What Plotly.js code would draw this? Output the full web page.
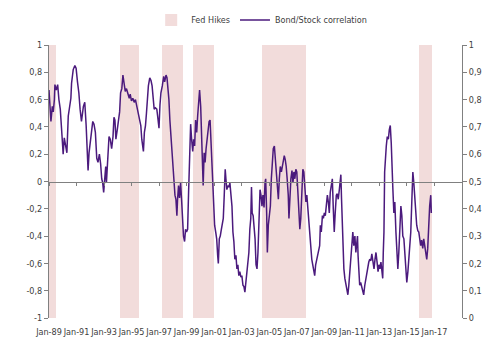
<!DOCTYPE html>
<html>
<head>
<meta charset="utf-8">
<script src="https://cdn.plot.ly/plotly-3.0.1.min.js"></script>
<style>html,body{margin:0;padding:0;background:#fff}#chart{width:497px;height:352px}</style>
</head>
<body>
<div id="chart"></div>
<script>
// Bond/Stock correlation (decimal year, value)
const corrYears = [
1989.00,1989.14,1989.24,1989.31,1989.39,1989.43,1989.53,1989.63,1989.72,1989.82,1989.91,
1990.03,1990.11,1990.20,1990.30,1990.40,1990.49,1990.59,1990.64,1990.76,1990.88,1990.97,
1991.07,1991.17,1991.26,1991.36,1991.50,1991.60,1991.70,1991.77,1991.84,1991.91,
1992.01,1992.08,1992.18,1992.27,1992.37,1992.47,1992.56,1992.66,1992.75,1992.83,1992.90,
1992.97,1993.05,1993.12,1993.17,1993.26,1993.36,1993.45,1993.55,1993.65,1993.72,1993.79,1993.86,1993.96,
1994.06,1994.13,1994.20,1994.29,1994.37,1994.44,1994.54,1994.63,1994.73,1994.83,1994.90,1994.99,
1995.09,1995.19,1995.28,1995.38,1995.48,1995.57,1995.67,1995.74,1995.81,1995.86,1995.93,
1996.01,1996.08,1996.15,1996.22,1996.32,1996.41,1996.49,1996.56,1996.64,1996.73,1996.83,1996.89,1996.99,
1997.06,1997.13,1997.23,1997.33,1997.40,1997.50,1997.57,1997.64,1997.71,1997.78,1997.86,1997.93,
1998.00,1998.08,1998.15,1998.22,1998.29,1998.34,1998.41,1998.48,1998.56,1998.63,1998.70,1998.77,1998.85,1998.92,1998.99,
1999.07,1999.14,1999.22,1999.29,1999.36,1999.44,1999.51,1999.58,1999.65,1999.73,1999.80,1999.87,1999.94,
2000.02,2000.09,2000.15,2000.20,2000.27,2000.34,2000.41,2000.48,2000.56,2000.63,2000.70,2000.77,2000.89,2000.96,
2001.03,2001.11,2001.18,2001.25,2001.30,2001.37,2001.44,2001.52,2001.59,2001.66,2001.73,2001.80,2001.85,2001.92,2001.99,
2002.07,2002.14,2002.21,2002.29,2002.36,2002.43,2002.50,2002.58,2002.65,2002.72,2002.79,2002.86,2002.94,
2003.01,2003.09,2003.16,2003.23,2003.30,2003.37,2003.44,2003.52,2003.59,2003.66,2003.71,2003.76,2003.83,2003.90,2003.97,
2004.04,2004.11,2004.18,2004.26,2004.33,2004.40,2004.47,2004.54,2004.62,2004.69,2004.74,2004.81,2004.86,2004.93,
2005.00,2005.08,2005.15,2005.22,2005.29,2005.37,2005.44,2005.52,2005.58,2005.66,2005.73,2005.80,2005.88,2005.94,
2006.02,2006.09,2006.16,2006.23,2006.30,2006.38,2006.43,2006.50,2006.57,2006.65,2006.72,2006.79,2006.86,2006.93,
2007.00,2007.07,2007.15,2007.22,2007.29,2007.37,2007.44,2007.51,2007.58,2007.66,2007.73,2007.80,2007.87,2007.94,
2008.01,2008.09,2008.16,2008.23,2008.30,2008.37,2008.45,2008.52,2008.59,2008.66,2008.71,2008.78,2008.86,2008.93,
2009.00,2009.07,2009.14,2009.22,2009.29,2009.36,2009.43,2009.50,2009.58,2009.65,2009.72,2009.79,2009.87,2009.94,
2010.01,2010.09,2010.16,2010.20,2010.25,2010.30,2010.35,2010.42,2010.49,2010.57,2010.64,2010.71,2010.78,2010.85,2010.93,
2011.00,2011.07,2011.14,2011.22,2011.29,2011.36,2011.41,2011.45,2011.50,2011.57,2011.64,2011.72,2011.79,2011.86,2011.94,
2012.01,2012.08,2012.15,2012.23,2012.30,2012.38,2012.45,2012.52,2012.61,2012.68,2012.75,2012.83,2012.90,2012.97,
2013.04,2013.11,2013.19,2013.24,2013.28,2013.33,2013.38,2013.43,2013.50,2013.57,2013.65,2013.72,2013.79,2013.86,2013.91,2013.98,
2014.05,2014.12,2014.20,2014.27,2014.34,2014.41,2014.49,2014.56,2014.63,2014.70,2014.78,2014.85,2014.92,2014.99,
2015.07,2015.14,2015.21,2015.28,2015.36,2015.43,2015.50,2015.57,2015.64,2015.71,2015.79,2015.86,2015.93,
2016.00,2016.07,2016.15,2016.22,2016.29,2016.37,2016.44,2016.51,2016.58,2016.65,2016.73,2016.77
];
const corrValues = [
0.67,0.44,0.55,0.51,0.60,0.71,0.67,0.71,0.60,0.53,0.39,
0.20,0.32,0.26,0.21,0.48,0.53,0.61,0.72,0.82,0.85,0.83,
0.73,0.65,0.53,0.44,0.55,0.58,0.41,0.19,0.08,0.21,
0.31,0.38,0.44,0.42,0.36,0.17,0.14,0.20,0.13,0.02,-0.01,
-0.08,0.04,0.11,-0.01,0.21,0.33,0.31,0.24,0.33,0.47,0.45,0.31,0.38,
0.48,0.51,0.65,0.68,0.78,0.72,0.66,0.68,0.65,0.61,0.64,0.59,
0.61,0.58,0.60,0.55,0.50,0.45,0.41,0.31,0.26,0.22,0.36,
0.41,0.50,0.62,0.70,0.76,0.74,0.70,0.61,0.53,0.54,0.53,0.48,0.39,
0.56,0.65,0.70,0.77,0.73,0.78,0.76,0.70,0.60,0.45,0.33,0.24,
0.11,0.05,-0.10,-0.13,-0.25,-0.13,-0.03,-0.12,-0.01,-0.13,-0.27,-0.40,-0.44,-0.35,-0.37,
-0.35,-0.08,0.16,0.42,0.31,0.22,0.31,0.26,0.45,0.36,0.48,0.60,0.67,
0.55,0.33,0.11,-0.03,0.21,0.14,0.24,0.31,0.36,0.44,0.45,0.28,0.02,-0.20,
-0.32,-0.37,-0.42,-0.54,-0.60,-0.42,-0.40,-0.35,-0.30,-0.27,-0.10,0.09,0.02,-0.06,-0.03,
-0.04,-0.01,-0.08,-0.18,-0.37,-0.44,-0.57,-0.54,-0.64,-0.61,-0.69,-0.66,-0.70,
-0.69,-0.76,-0.77,-0.81,-0.74,-0.70,-0.64,-0.52,-0.35,-0.27,-0.04,-0.23,-0.25,-0.32,-0.42,
-0.61,-0.64,-0.52,-0.32,-0.06,-0.10,-0.18,-0.10,-0.19,-0.01,0.02,-0.23,-0.52,-0.32,
-0.25,-0.18,0.02,0.19,0.24,0.26,0.16,0.11,-0.03,-0.13,0.02,0.11,0.07,0.11,
0.17,0.19,0.16,0.11,0.02,-0.10,-0.27,-0.10,0.02,0.08,-0.01,0.07,0.02,0.09,
0.07,-0.06,-0.23,-0.35,-0.27,-0.10,0.09,0.07,-0.08,-0.15,-0.10,-0.20,-0.27,-0.40,
-0.47,-0.57,-0.61,-0.64,-0.69,-0.61,-0.57,-0.54,-0.52,-0.47,-0.32,-0.37,-0.25,-0.27,
-0.23,-0.25,-0.18,-0.10,-0.15,-0.23,-0.08,-0.03,0.02,-0.20,-0.37,-0.23,-0.10,-0.09,
-0.13,-0.06,-0.01,0.05,-0.13,-0.35,-0.47,-0.64,-0.71,-0.76,-0.81,-0.83,-0.76,-0.66,-0.57,
-0.44,-0.37,-0.47,-0.40,-0.52,-0.42,-0.40,-0.54,-0.66,-0.76,-0.74,-0.77,-0.81,-0.83,-0.76,
-0.71,-0.66,-0.64,-0.59,-0.57,-0.58,-0.53,-0.59,-0.64,-0.57,-0.52,-0.59,-0.66,-0.61,
-0.64,-0.59,-0.66,-0.71,-0.52,-0.37,0.07,0.21,0.26,0.33,0.31,0.38,0.41,0.28,0.07,-0.06,
-0.23,-0.15,-0.37,-0.57,-0.64,-0.52,-0.27,-0.18,-0.25,-0.40,-0.42,-0.54,-0.66,-0.74,
-0.66,-0.54,-0.42,-0.37,-0.13,0.07,-0.01,-0.13,-0.27,-0.32,-0.36,-0.37,-0.42,
-0.47,-0.43,-0.49,-0.42,-0.47,-0.54,-0.57,-0.49,-0.32,-0.18,-0.10,-0.23
];

// Fed hike periods (decimal years) - indicator = 1 on the right axis
const hikeStarts = [1988.20, 1994.13, 1997.21, 1999.49, 2004.46, 2015.86];
const hikeEnds   = [1989.50, 1995.52, 1998.74, 2001.00, 2007.65, 2016.80];
const hikeLevel  = [1, 1, 1, 1, 1, 1];

const xTickDates  = ['1989-01-01','1991-01-01','1993-01-01','1995-01-01','1997-01-01','1999-01-01','2001-01-01','2003-01-01','2005-01-01','2007-01-01','2009-01-01','2011-01-01','2013-01-01','2015-01-01','2017-01-01'];
const xTickLabels = ['Jan-89','Jan-91','Jan-93','Jan-95','Jan-97','Jan-99','Jan-01','Jan-03','Jan-05','Jan-07','Jan-09','Jan-11','Jan-13','Jan-15','Jan-17'];
const yLeftTicks  = [-1,-0.8,-0.6,-0.4,-0.2,0,0.2,0.4,0.6,0.8,1];
const yLeftLabels = ['-1','-0,8','-0,6','-0,4','-0,2','0','0,2','0,4','0,6','0,8','1'];
const yRightTicks  = [0,0.1,0.2,0.3,0.4,0.5,0.6,0.7,0.8,0.9,1];
const yRightLabels = ['0','0,1','0,2','0,3','0,4','0,5','0,6','0,7','0,8','0,9','1'];

function decYearMs(t){
  const y = Math.floor(t);
  const a = Date.UTC(y,0,1), b = Date.UTC(y+1,0,1);
  return a + (t - y) * (b - a);
}
function decYearToDate(t){ return new Date(decYearMs(t)).toISOString().slice(0,19); }

const font = {family: "'DejaVu Sans Condensed', 'Liberation Sans Narrow', sans-serif", size: 9, color: '#404040'};
const xRange = ['1989-01-01','2019-01-01'];

// bars on the main subplot (right-hand 0..1 axis), line on the overlay (left -1..1 axis) so it is drawn above
const hikeTrace = {
  type: 'bar', name: 'Fed Hikes',
  x: hikeStarts.map(decYearToDate),
  y: hikeLevel,
  width: hikeStarts.map((s,i) => decYearMs(hikeEnds[i]) - decYearMs(s)),
  offset: 0,
  xaxis: 'x', yaxis: 'y',
  marker: {color: '#f2dcdb', line: {width: 0}},
  hoverinfo: 'skip'
};
const corrTrace = {
  type: 'scatter', mode: 'lines', name: 'Bond/Stock correlation',
  x: corrYears.map(decYearToDate),
  y: corrValues,
  xaxis: 'x2', yaxis: 'y2',
  line: {color: '#4b1a7d', width: 1.5}
};

const layout = {
  width: 497, height: 352,
  margin: {l: 49, r: 35, t: 45, b: 34, autoexpand: false},
  paper_bgcolor: '#fff', plot_bgcolor: 'rgba(0,0,0,0)',
  font: font,
  showlegend: true,
  legend: {orientation: 'h', x: 0.515, xanchor: 'center', y: 1.092, yanchor: 'middle', font: font, bgcolor: 'rgba(0,0,0,0)', tracegroupgap: 0},
  bargap: 0,
  xaxis: {
    type: 'date', range: xRange,
    tickvals: xTickDates, ticktext: xTickLabels, tickangle: 0,
    ticks: 'outside', ticklen: 5, tickcolor: 'rgba(0,0,0,0)',
    showline: false, showgrid: false, zeroline: false,
    tickfont: font
  },
  xaxis2: {
    type: 'date', range: xRange, overlaying: 'x',
    anchor: 'free', position: 0.5,
    tickvals: xTickDates, showticklabels: false,
    ticks: 'outside', ticklen: 3, tickcolor: '#808080', tickwidth: 1,
    showline: true, linecolor: '#808080', linewidth: 1,
    showgrid: false, zeroline: false
  },
  yaxis: {
    range: [0, 1], side: 'right', tickvals: yRightTicks, ticktext: yRightLabels,
    ticks: 'outside', ticklen: 4, tickcolor: '#808080',
    showline: true, linecolor: '#808080', linewidth: 1,
    showgrid: false, zeroline: false, tickfont: font
  },
  yaxis2: {
    range: [-1, 1], overlaying: 'y', side: 'left', anchor: 'x',
    tickvals: yLeftTicks, ticktext: yLeftLabels,
    ticks: 'outside', ticklen: 4, tickcolor: '#808080',
    showline: true, linecolor: '#808080', linewidth: 1,
    showgrid: false, zeroline: false, tickfont: font
  }
};

Plotly.newPlot('chart', [hikeTrace, corrTrace], layout, {displayModeBar: false, staticPlot: true});
</script>
</body>
</html>
